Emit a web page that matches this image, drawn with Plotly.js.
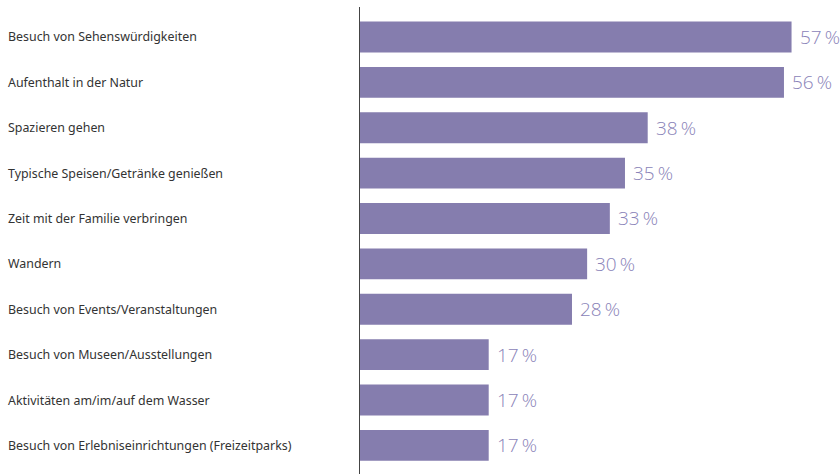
<!DOCTYPE html>
<html>
<head>
<meta charset="utf-8">
<script src="https://cdn.plot.ly/plotly-3.0.1.min.js"></script>
<style>html,body{margin:0;padding:0;background:#fff;}#chart{width:840px;height:474px;}</style>
</head>
<body>
<div id="chart"></div>
<script>
const categories = [
  "Besuch von Sehenswürdigkeiten",
  "Aufenthalt in der Natur",
  "Spazieren gehen",
  "Typische Speisen/Getränke genießen",
  "Zeit mit der Familie verbringen",
  "Wandern",
  "Besuch von Events/Veranstaltungen",
  "Besuch von Museen/Ausstellungen",
  "Aktivitäten am/im/auf dem Wasser",
  "Besuch von Erlebniseinrichtungen (Freizeitparks)"
];
const values = [57, 56, 38, 35, 33, 30, 28, 17, 17, 17];

const barColor = "#857dae";
const valueColor = "#8a83b8";

const trace = {
  type: "bar",
  orientation: "h",
  x: values,
  y: categories,
  marker: {color: barColor, line: {width: 0}},
  hoverinfo: "none"
};

const annotations = [];
categories.forEach((c, i) => {
  annotations.push({
    x: -0.7375, xref: "paper", y: c, yref: "y",
    text: c, showarrow: false, xanchor: "left", yanchor: "middle",
    font: {family: "Noto Sans", size: 12.4, color: "#333333"}
  });
  annotations.push({
    x: values[i], xref: "x", y: c, yref: "y",
    text: values[i] + "\u2009%", showarrow: false, xanchor: "left", yanchor: "middle",
    xshift: 6,
    font: {family: "Open Sans", size: 19, color: valueColor, weight: 300}
  });
});

const layout = {
  width: 840, height: 474,
  margin: {l: 360, r: 0, t: 7, b: 0, pad: 0},
  paper_bgcolor: "#ffffff", plot_bgcolor: "#ffffff",
  showlegend: false,
  bargap: 0.32,
  xaxis: {range: [0, 63.4], showgrid: false, zeroline: false, showticklabels: false, showline: false, fixedrange: true},
  yaxis: {type: "category", range: [9.63, -0.66], showgrid: false, zeroline: false, showticklabels: false,
          showline: true, linecolor: "#444444", linewidth: 1.2, ticks: "", fixedrange: true},
  annotations: annotations
};

Plotly.newPlot("chart", [trace], layout, {displayModeBar: false, staticPlot: true});
</script>
</body>
</html>
